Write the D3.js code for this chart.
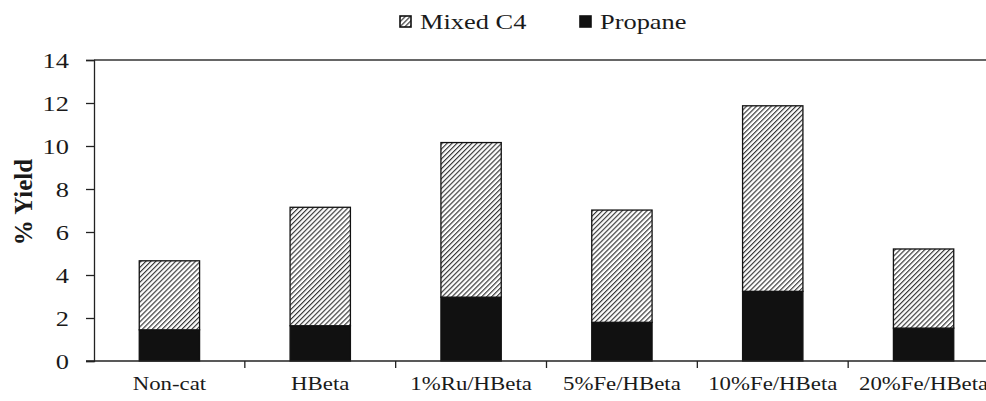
<!DOCTYPE html>
<html>
<head>
<meta charset="utf-8">
<script src="https://cdn.jsdelivr.net/npm/d3@7"></script>
<style>
  body { margin: 0; background: #fff; }
  text { font-family: "Liberation Serif", "Times New Roman", serif; fill: #1a1a1a; }
</style>
</head>
<body>
<div id="graf"></div>
<script>
// datos
const categorias = ["Non-cat", "HBeta", "1%Ru/HBeta", "5%Fe/HBeta", "10%Fe/HBeta", "20%Fe/HBeta"]
const propano = [1.45, 1.64, 2.97, 1.80, 3.24, 1.53]
const mixtoC4 = [3.21, 5.51, 7.19, 5.22, 8.63, 3.68]
const ticksY = [0, 2, 4, 6, 8, 10, 12, 14]

const anchoTotal = 986
const altoTotal = 401
const margins = { top: 60, right: -13, bottom: 40, left: 94 }
const ancho = anchoTotal - margins.left - margins.right
const alto = altoTotal - margins.top - margins.bottom
const estirar = 1.2  // el original esta estirado a lo ancho

const svg = d3.select("#graf").append("svg").attr("width", anchoTotal).attr("height", altoTotal)

// patron rayado
const defs = svg.append("defs")
const pat = defs.append("pattern").attr("id", "rayas").attr("patternUnits", "userSpaceOnUse")
  .attr("width", 3.5).attr("height", 3.5).attr("patternTransform", "rotate(45)")
pat.append("rect").attr("width", 3.5).attr("height", 3.5).attr("fill", "#fff")
pat.append("line").attr("x1", 0.6).attr("y1", 0).attr("x2", 0.6).attr("y2", 3.5)
  .attr("stroke", "#2a2a2a").attr("stroke-width", 1.1)

const g = svg.append("g").attr("transform", `translate(${margins.left}, ${margins.top})`)

const x = d3.scaleBand().domain(categorias).range([0, ancho]).paddingInner(0.6).paddingOuter(0.3)
const y = d3.scaleLinear().domain([0, 14]).range([alto, 0])

const filas = categorias.map((c, i) => ({ cat: c, propano: propano[i], mixto: mixtoC4[i] }))
const pila = d3.stack().keys(["propano", "mixto"])(filas)

g.selectAll("g.serie").data(pila).join("g")
  .attr("class", "serie")
  .attr("fill", d => d.key === "propano" ? "#111" : "url(#rayas)")
  .selectAll("rect").data(d => d).join("rect")
  .attr("x", d => x(d.data.cat))
  .attr("width", x.bandwidth())
  .attr("y", d => y(d[1]))
  .attr("height", d => y(d[0]) - y(d[1]))
  .attr("stroke", "#111").attr("stroke-width", 1.3)

// linea superior
g.append("line").attr("x1", 0).attr("x2", ancho).attr("y1", 0).attr("y2", 0)
  .attr("stroke", "#333").attr("stroke-width", 1.3)

// eje y
const ejeY = g.append("g").call(d3.axisLeft(y).tickValues(ticksY).tickSize(8).tickPadding(17))
ejeY.select(".domain").attr("stroke", "#222").attr("stroke-width", 1.3)
ejeY.selectAll(".tick line").attr("stroke", "#222").attr("stroke-width", 1.3)
ejeY.selectAll("text").attr("font-size", 22).attr("font-family", "Liberation Serif").attr("fill", "#1a1a1a")

// eje x
const ejeX = g.append("g").attr("transform", `translate(0, ${alto})`)
ejeX.append("line").attr("x1", -8).attr("x2", ancho).attr("stroke", "#222").attr("stroke-width", 1.3)
const step = x.step()
const bordes = categorias.slice(1).map(c => x(c) - (step - x.bandwidth()) / 2)
ejeX.selectAll("line.tk").data(bordes).join("line").attr("class", "tk")
  .attr("x1", d => d).attr("x2", d => d).attr("y1", 0).attr("y2", 7)
  .attr("stroke", "#222").attr("stroke-width", 1.3)
ejeX.selectAll("text").data(categorias).join("text")
  .attr("x", d => x(d) + x.bandwidth() / 2).attr("y", 29)
  .attr("text-anchor", "middle").attr("font-size", 19).text(d => d)

// titulo eje y
svg.append("text").attr("transform", "translate(32, 202) rotate(-90)")
  .attr("text-anchor", "middle").attr("font-size", 25).attr("font-weight", "bold").text("% Yield")

// leyenda
const leyenda = [
  { nombre: "Mixed C4", fill: "url(#rayas)", x: 400 },
  { nombre: "Propane", fill: "#111", x: 580 }
]
const lg = svg.selectAll("g.ley").data(leyenda).join("g").attr("class", "ley")
  .attr("transform", d => `translate(${d.x}, 16)`)
lg.append("rect").attr("width", 11).attr("height", 11).attr("fill", d => d.fill)
  .attr("stroke", "#111").attr("stroke-width", 1.6)
lg.append("text").attr("x", 20).attr("y", 13).attr("font-size", 22).text(d => d.nombre)

// estirar textos horizontalmente (el titulo rotado queda igual)
svg.selectAll("text").each(function () {
  if (this.getAttribute("transform")) return
  const w = this.getComputedTextLength()
  d3.select(this).attr("textLength", w * estirar).attr("lengthAdjust", "spacingAndGlyphs")
})
</script>
</body>
</html>
